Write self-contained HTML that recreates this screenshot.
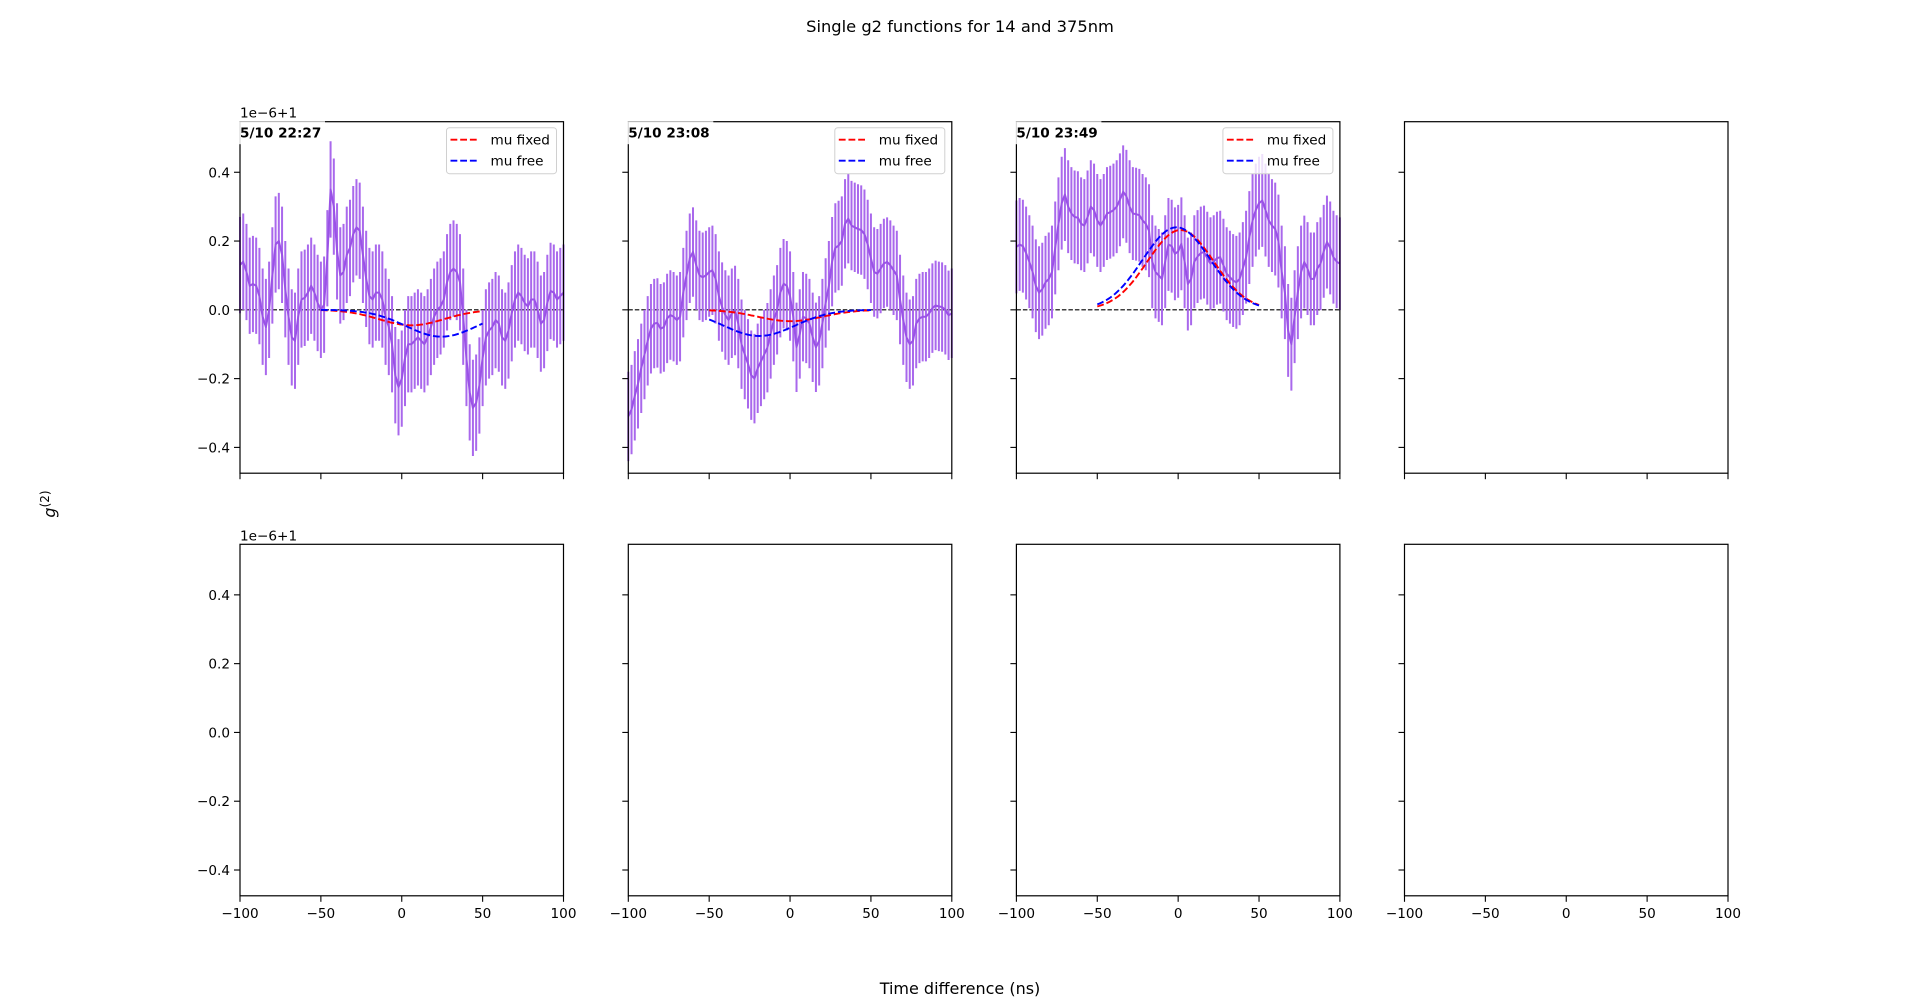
<!DOCTYPE html>
<html><head><meta charset="utf-8">
<style>
html,body{margin:0;padding:0;background:#fff;}
svg{display:block;font-family:"DejaVu Sans","Liberation Sans",sans-serif;}
</style></head>
<body>
<svg id="fig" width="1920" height="1007" viewBox="0 0 1920 1007" xmlns="http://www.w3.org/2000/svg">
<rect width="1920" height="1007" fill="#fff"/>
<text x="960" y="32" font-size="16.3" text-anchor="middle">Single g2 functions for 14 and 375nm</text>
<text x="960" y="994" font-size="16" text-anchor="middle">Time difference (ns)</text>
<text transform="translate(55,504) rotate(-90)" font-size="16" text-anchor="middle"><tspan font-style="italic">g</tspan><tspan font-size="12" dy="-6">(2)</tspan></text>
<g id="plots"></g>
</svg>
<script>
const xTicks = [-100, -50, 0, 50, 100];
const yTicks = [-0.4, -0.2, 0.0, 0.2, 0.4];
const yTickLabels = ["\u22120.4", "\u22120.2", "0.0", "0.2", "0.4"];
const xTickLabels = ["\u2212100", "\u221250", "0", "50", "100"];
const panelTitles = ["5/10 22:27", "5/10 23:08", "5/10 23:49"];
const timeStart = -100, timeStep = 2;
const g2Panel1 = [0.13,0.14,0.11,0.07,0.075,0.07,0.04,-0.02,-0.05,0.0,0.1,0.19,0.2,0.16,0.06,-0.02,-0.08,-0.09,-0.02,0.03,0.035,0.05,0.07,0.05,0.02,0.0,0.015,0.15,0.35,0.3,0.17,0.1,0.11,0.16,0.18,0.22,0.24,0.23,0.16,0.09,0.04,0.03,0.05,0.05,0.03,-0.02,-0.05,-0.1,-0.19,-0.225,-0.2,-0.14,-0.1,-0.1,-0.09,-0.08,-0.09,-0.1,-0.08,-0.05,-0.02,0.0,0.01,0.03,0.08,0.11,0.12,0.11,0.08,-0.02,-0.14,-0.24,-0.285,-0.27,-0.22,-0.14,-0.08,-0.06,-0.05,-0.03,-0.04,-0.08,-0.09,-0.06,-0.01,0.03,0.05,0.04,0.02,0.01,0.03,0.03,0.0,-0.04,-0.03,0.02,0.055,0.05,0.03,0.04,0.05];
const g2Panel2 = [-0.31,-0.29,-0.25,-0.215,-0.17,-0.13,-0.09,-0.055,-0.04,-0.038,-0.055,-0.05,-0.025,-0.015,-0.02,-0.03,-0.02,0.05,0.1,0.15,0.168,0.13,0.1,0.095,0.1,0.11,0.115,0.09,0.04,0.008,-0.015,-0.03,-0.01,-0.002,-0.04,-0.1,-0.13,-0.157,-0.19,-0.2,-0.17,-0.15,-0.13,-0.11,-0.07,-0.03,0.0,0.05,0.076,0.07,0.04,-0.02,-0.109,-0.07,-0.02,-0.025,-0.04,-0.08,-0.109,-0.09,-0.04,0.02,0.07,0.14,0.18,0.187,0.2,0.25,0.265,0.245,0.24,0.235,0.232,0.22,0.19,0.15,0.11,0.105,0.12,0.135,0.139,0.13,0.115,0.1,0.03,-0.03,-0.08,-0.1,-0.09,-0.04,-0.025,-0.02,-0.02,-0.01,0.005,0.013,0.01,0.008,0.0,-0.016,-0.01];
const g2Panel3 = [0.183,0.19,0.185,0.165,0.14,0.11,0.07,0.05,0.06,0.08,0.09,0.11,0.18,0.25,0.31,0.335,0.3,0.28,0.27,0.268,0.25,0.245,0.27,0.3,0.29,0.26,0.245,0.26,0.28,0.284,0.29,0.3,0.32,0.343,0.33,0.3,0.28,0.278,0.275,0.26,0.25,0.23,0.14,0.11,0.1,0.09,0.14,0.19,0.185,0.163,0.17,0.192,0.14,0.075,0.09,0.14,0.155,0.165,0.168,0.15,0.134,0.14,0.15,0.153,0.13,0.105,0.095,0.085,0.08,0.09,0.12,0.153,0.21,0.26,0.29,0.31,0.318,0.29,0.26,0.245,0.235,0.2,0.11,0.05,-0.06,-0.1,-0.02,0.05,0.11,0.139,0.12,0.09,0.09,0.12,0.134,0.17,0.197,0.18,0.153,0.14,0.134];
const errPanel = [0.14, 0.13, 0.135];
// gaussian fit params: [amplitude, center, sigma]
const fitFixed = [[-0.045, 6, 20], [-0.033, 0, 20], [0.232, 1.5, 20.5]];
const fitFree = [[-0.078, 24.6, 21.9], [-0.076, -19, 22], [0.24, -1, 21]];
const fitRange = [-50, 50];

const NS = "http://www.w3.org/2000/svg";
const root = document.getElementById('plots');
const panelLeft = [240, 628.3, 1016.4, 1404.5];
const panelW = 323.5;
const rowTop = [121.7, 544.3];
const panelH = 351.5;
const yMin = -0.475, yMax = 0.547;
function mk(tag, attrs, parent){const e=document.createElementNS(NS,tag);for(const k in attrs)e.setAttribute(k,attrs[k]);(parent||root).appendChild(e);return e;}
function xScale(p, v){return panelLeft[p] + (v+100)/200*panelW;}
function yScale(r, v){return rowTop[r] + (yMax - v)/(yMax-yMin)*panelH;}

const g2Data = [g2Panel1, g2Panel2, g2Panel3];

for (let r=0;r<2;r++){
  for (let p=0;p<4;p++){
    const g = mk('g', {});
    
    
    const L=panelLeft[p], T=rowTop[r], B=T+panelH, R=L+panelW;
    if (r===0 && p<3){
      const d=g2Data[p];
      const z = mk('line',{x1:L,x2:R,y1:yScale(0,0),y2:yScale(0,0),stroke:'#000','stroke-width':1.2,'stroke-dasharray':'4.5,2'},g);
      
      
      const bars = mk('g',{},g);
      
      
      let pts=[];
      for (let i=0;i<d.length;i++){
        const t=timeStart+i*timeStep, x=xScale(p,t);
        const b=mk('line',{x1:x,x2:x,y1:yScale(0,d[i]+errPanel[p]),y2:yScale(0,d[i]-errPanel[p]),stroke:'#a968ec','stroke-width':2},bars);
        
        
        pts.push(x.toFixed(1)+','+yScale(0,d[i]).toFixed(1));
      }
      const ln=mk('polyline',{points:pts.join(' '),fill:'none',stroke:'#9a52e6','stroke-width':2,'stroke-linejoin':'round'},g);
      
      
      const fits=[[fitFixed[p],'#ff0000','fit-mu-fixed'],[fitFree[p],'#0000ff','fit-mu-free']];
      for (const [par,col,nm] of fits){
        let fp=[];
        for (let t=fitRange[0]; t<=fitRange[1]; t+=1){
          const v=par[0]*Math.exp(-(t-par[1])*(t-par[1])/(2*par[2]*par[2]));
          fp.push(xScale(p,t).toFixed(1)+','+yScale(0,v).toFixed(1));
        }
        const f=mk('polyline',{points:fp.join(' '),fill:'none',stroke:col,'stroke-width':1.9,'stroke-dasharray':'6.8,2.9'},g);
        
        
      }
    }
    const fr=mk('rect',{x:L,y:T,width:panelW,height:panelH,fill:'none',stroke:'#000','stroke-width':1.2},g);
    
    
    for (let i=0;i<xTicks.length;i++){
      const x=xScale(p,xTicks[i]);
      mk('line',{x1:x,x2:x,y1:B,y2:B+6,stroke:'#000','stroke-width':1.1},g);
      if (r===1){
        const tl=mk('text',{x:x,y:B+22,'font-size':13.6,'text-anchor':'middle'},g);
        tl.textContent=xTickLabels[i];
        
        
      }
    }
    for (let i=0;i<yTicks.length;i++){
      const y=yScale(r,yTicks[i]);
      mk('line',{x1:L-6,x2:L,y1:y,y2:y,stroke:'#000','stroke-width':1.1},g);
      if (p===0){
        const tl=mk('text',{x:L-10,y:y+5,'font-size':13.6,'text-anchor':'end'},g);
        tl.textContent=yTickLabels[i];
        
        
      }
    }
    if (p===0){
      const off=mk('text',{x:L,y:T-4,'font-size':13.6},g);
      off.textContent='1e\u22126+1';
      
      
    }
    if (r===0 && p<3){
      mk('rect',{x:L-1,y:T-0.5,width:86,height:23,fill:'#fff',opacity:0.85},g);
      const tt=mk('text',{x:L,y:T+16,'font-size':13.6,'font-weight':'bold'},g);
      tt.textContent=panelTitles[p];
      
      
      const lg=mk('g',{},g);
      
      
      const lx=R-117, ly=T+6;
      mk('rect',{x:lx,y:ly,width:110,height:46,rx:3,fill:'#fff','fill-opacity':0.8,stroke:'#d0d0d0','stroke-width':1},lg);
      const ents=[['mu fixed','#ff0000'],['mu free','#0000ff']];
      ents.forEach((e,k)=>{
        const yy=ly+12+k*21;
        const ll=mk('line',{x1:lx+4,x2:lx+33,y1:yy,y2:yy,stroke:e[1],'stroke-width':1.9,'stroke-dasharray':'6.8,2.9'},lg);
        
        
        const lt=mk('text',{x:lx+44,y:yy+5,'font-size':13.6},lg);
        lt.textContent=e[0];
        
        
      });
    }
  }
}
</script>
</body></html>
